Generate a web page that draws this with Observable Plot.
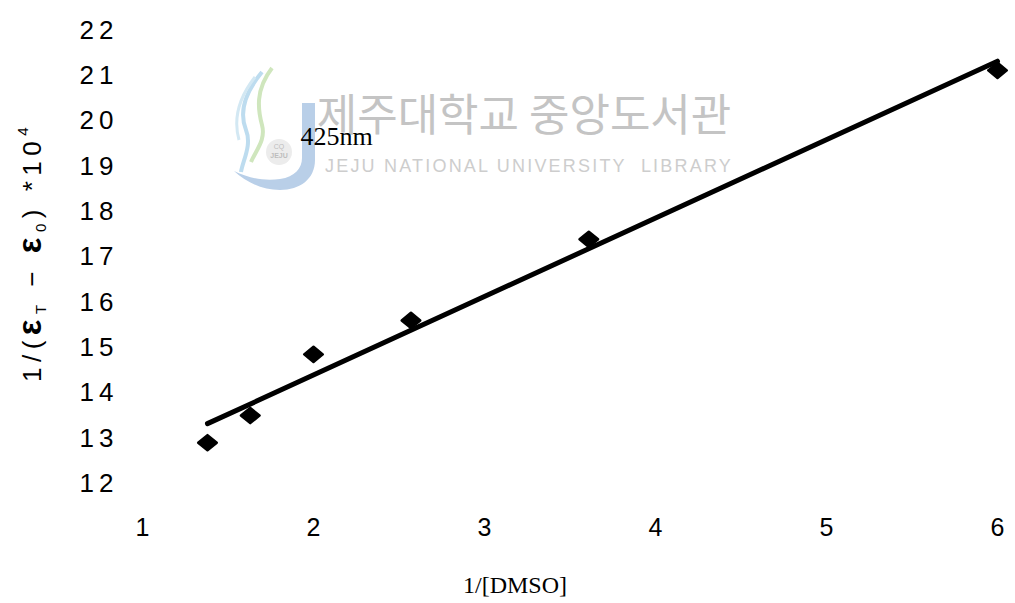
<!DOCTYPE html>
<html><head><meta charset="utf-8">
<script src="https://cdn.jsdelivr.net/npm/d3@7"></script>
<script src="https://cdn.jsdelivr.net/npm/@observablehq/plot@0.6"></script>
<style>
body{margin:0;background:#fff}
svg [aria-label="y-axis tick label"] text{letter-spacing:5px;font-size:26px}
svg [aria-label="x-axis tick label"] text{font-size:25px}
</style>
</head><body><div id="chart"></div>
<script>
const invDMSO = [1.38, 1.63, 2.0, 2.57, 3.61, 6.0];
const invDeltaEps = [12.9, 13.5, 14.85, 15.6, 17.39, 21.12];
const xTicks = [1, 2, 3, 4, 5, 6];
const yTicks = [12, 13, 14, 15, 16, 17, 18, 19, 20, 21, 22];
const annX = [1.924];
const annY = [19.66];
const annText = ["425nm"];

const data = invDMSO.map((x, i) => ({x, y: invDeltaEps[i]}));
const ann = annText.map((t, i) => ({x: annX[i], y: annY[i], text: t}));

// wide, flattened diamond marker
const flatDiamond = {
  draw(ctx, size) {
    const w = 9.3, h = 7.6;
    ctx.moveTo(0, -h); ctx.lineTo(w, 0); ctx.lineTo(0, h); ctx.lineTo(-w, 0); ctx.closePath();
  }
};

const plot = Plot.plot({
  width: 1015, height: 603,
  marginLeft: 142, marginRight: 18, marginTop: 30, marginBottom: 120,
  style: {fontFamily: "'Liberation Sans', Arial, sans-serif", fontSize: "25px", background: "#fff", color: "#000"},
  x: {domain: [1, 6], ticks: xTicks, tickSize: 0, tickPadding: 35, label: null, tickFormat: d => String(d)},
  y: {domain: [12, 22], ticks: yTicks, tickSize: 0, tickPadding: 24, label: null, tickFormat: d => String(d)},
  marks: [
    Plot.linearRegressionY(data, {x: "x", y: "y", ci: 0, stroke: "#000", strokeWidth: 5}),
    Plot.dot(data, {x: "x", y: "y", symbol: flatDiamond, r: 8, fill: "#000", stroke: "#000", strokeWidth: 2.5, strokeLinejoin: "round"}),
    Plot.text(ann, {x: "x", y: "y", text: "text", textAnchor: "start", fontFamily: "'Liberation Serif', serif", fontSize: 26})
  ]
});
document.getElementById("chart").appendChild(plot);

const svg = d3.select(plot);
// watermark (library stamp) behind the chart
const wm = svg.insert("g", ":first-child").attr("class", "watermark");
wm.append("path").attr("d", "M302,103 L315,103 L315,160 C315,179 300,190 280,190 C262,190 246,182 234,171 C250,179 266,181 280,179 C295,177 302,168 302,158 Z")
  .attr("fill", "#b9cfe8");
wm.append("path").attr("d", "M272,68 C255,90 258,110 262,125 C266,140 256,150 251,162")
  .attr("fill", "none").attr("stroke", "#cfe6bd").attr("stroke-width", 4);
wm.append("path").attr("d", "M262,72 C243,95 240,115 246,130 C252,145 243,160 241,172")
  .attr("fill", "none").attr("stroke", "#bddcef").attr("stroke-width", 4);
wm.append("path").attr("d", "M255,77 C237,100 234,122 239,140")
  .attr("fill", "none").attr("stroke", "#d3e8f3").attr("stroke-width", 3);
wm.append("circle").attr("cx", 279).attr("cy", 152).attr("r", 13).attr("fill", "#ececec");
wm.append("text").attr("x", 279).attr("y", 149).attr("text-anchor", "middle").attr("font-family", "'Liberation Sans', sans-serif")
  .attr("font-size", 7).attr("fill", "#bdbdbd").text("CQ");
wm.append("text").attr("x", 279).attr("y", 158).attr("text-anchor", "middle").attr("font-family", "'Liberation Sans', sans-serif")
  .attr("font-size", 7).attr("font-weight", "bold").attr("fill", "#bdbdbd").text("JEJU");
wm.append("text").attr("x", 524).attr("y", 131).attr("text-anchor", "middle")
  .attr("font-family", "'Noto Sans CJK KR', sans-serif").attr("font-size", 44).attr("fill", "#c4c4c4")
  .text("제주대학교 중앙도서관");
wm.append("text").attr("x", 529).attr("y", 172).attr("text-anchor", "middle")
  .attr("font-family", "'Liberation Sans', sans-serif").attr("font-size", 18).attr("fill", "#cdcdcd")
  .attr("letter-spacing", 2.2).text("JEJU NATIONAL UNIVERSITY  LIBRARY");

// y label
const yl = svg.append("text").attr("transform", "translate(41,252) rotate(-90)").attr("text-anchor", "middle")
  .attr("font-family", "'Liberation Sans', sans-serif").attr("font-size", 26).attr("fill", "#000")
  .attr("letter-spacing", 5.5);
yl.append("tspan").text("1/(");
yl.append("tspan").attr("font-weight", "bold").attr("font-size", 33).text("ε");
yl.append("tspan").attr("font-size", 15).attr("dy", 5).text("T");
yl.append("tspan").attr("dy", -5).text(" − ");
yl.append("tspan").attr("font-weight", "bold").attr("font-size", 33).text("ε");
yl.append("tspan").attr("font-size", 15).attr("dy", 5).text("0");
yl.append("tspan").attr("dy", -5).text(") *10");
yl.append("tspan").attr("font-size", 15).attr("dy", -13).text("4");

// x label
svg.append("text").attr("x", 515).attr("y", 593).attr("text-anchor", "middle")
  .attr("font-family", "'Liberation Serif', serif").attr("font-size", 24).attr("fill", "#000")
  .text("1/[DMSO]");
</script>
</body></html>
